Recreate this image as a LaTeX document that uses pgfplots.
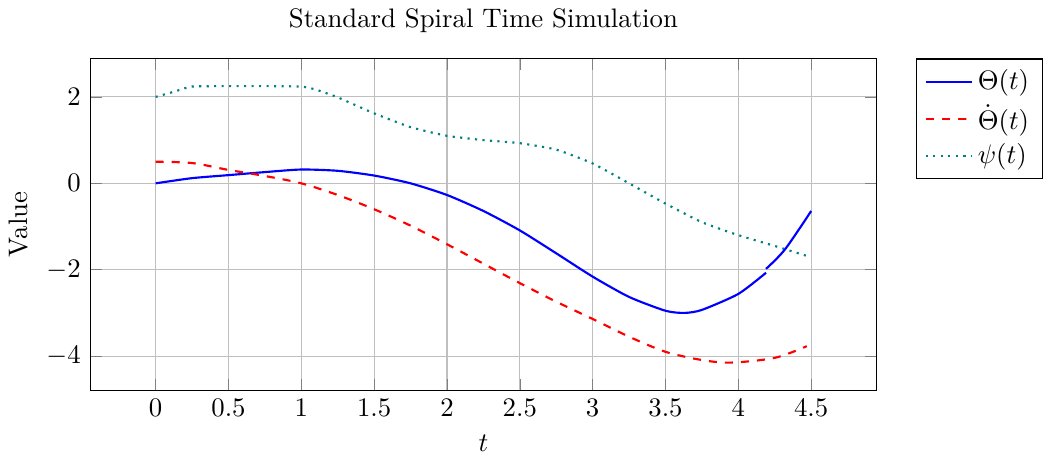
\documentclass[border=0pt]{standalone}
\usepackage{pgfplots}
\pgfplotsset{compat=1.18}
\begin{document}
\begin{tikzpicture}
\begin{axis}[
  scale only axis,
  width=294pt, height=124pt,
  title={Standard Spiral Time Simulation},
  xlabel={$t$}, ylabel={Value},
  grid=major,
  enlargelimits=0.1,
  xtick={0,0.5,...,4.5},
  ytick={-4,-2,0,2},
  legend style={at={(1.05,1)}, anchor=north west, cells={anchor=west}},
]
\addplot[blue, thick, smooth, tension=0.4] coordinates {
(0,0) (0.25,0.12) (0.5,0.19) (0.75,0.26) (1.0,0.32) (1.25,0.29) (1.5,0.18)
(1.75,0.0) (2.0,-0.27) (2.25,-0.64) (2.5,-1.09) (2.75,-1.62) (3.0,-2.16)
(3.25,-2.63) (3.5,-2.95) (3.63,-3.0) (3.75,-2.93) (4.0,-2.56) (4.19,-2.07)
};
\addlegendentry{$\Theta(t)$}
\addplot[red, thick, dashed, smooth] coordinates {
(0,0.5) (0.25,0.47) (0.5,0.31) (0.75,0.17) (1.0,0.0) (1.25,-0.27) (1.5,-0.6)
(1.75,-0.98) (2.0,-1.41) (2.25,-1.86) (2.5,-2.31) (2.75,-2.74) (3.0,-3.14)
(3.25,-3.55) (3.5,-3.9) (3.75,-4.09) (3.95,-4.15) (4.25,-4.04) (4.47,-3.77)
};
\addlegendentry{$\dot{\Theta}(t)$}
\addplot[teal, thick, dotted, smooth, tension=0.3] coordinates {
(0,2.0) (0.125,2.12) (0.25,2.24) (0.5,2.25) (0.75,2.25) (1.0,2.24) (1.1,2.17) (1.25,1.99) (1.5,1.62)
(1.75,1.3) (2.0,1.1) (2.25,1.0) (2.5,0.93) (2.75,0.78) (3.0,0.46)
(3.25,0.0) (3.5,-0.47) (3.75,-0.9) (4.0,-1.2) (4.25,-1.45) (4.47,-1.68)
};
\addlegendentry{$\psi(t)$}
\addplot[blue, thick, smooth, forget plot] coordinates {
(4.19,-1.98) (4.32,-1.53) (4.5,-0.64)
};
\end{axis}
\end{tikzpicture}
\end{document}
